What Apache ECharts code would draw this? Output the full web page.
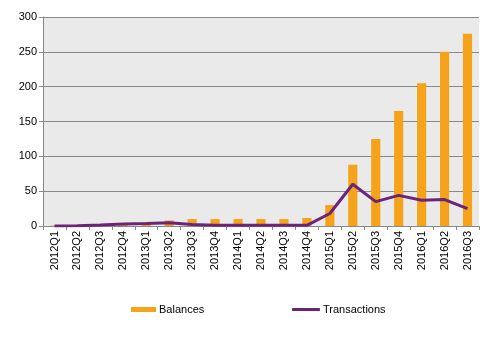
<!DOCTYPE html>
<html><head><meta charset="utf-8">
<script src="https://cdn.jsdelivr.net/npm/echarts@6/dist/echarts.min.js"></script>
<style>html,body{margin:0;padding:0;background:#fff}#c{width:491px;height:340px}</style>
</head><body><div id="c"></div>
<script>
var categories = ['2012Q1','2012Q2','2012Q3','2012Q4','2013Q1','2013Q2','2013Q3','2013Q4','2014Q1','2014Q2','2014Q3','2014Q4','2015Q1','2015Q2','2015Q3','2015Q4','2016Q1','2016Q2','2016Q3'];
var balances = [0.5,0.5,1,2,5,8,10,10,10,10,10,11.5,30,88,125,165,205,250,276];
var transactions = [0,0.5,1.5,3,3.5,4.5,2,1,1,1,1,1,18,60,35,44,37,38,25];
var yTicks = {min:0, max:300, interval:50};
var chart = echarts.init(document.getElementById('c'));
var font = 'Liberation Sans, Arial, sans-serif';
var legendText = {fontFamily:font, fontSize:11, color:'#000', padding:[0,0,0,-2]};
chart.setOption({
  animation:false,
  grid:{left:43, right:12, top:17, bottom:114, show:true, backgroundColor:'#EAEAEA', borderWidth:0},
  legend:[
    {left:126, top:299, itemWidth:25, itemHeight:5, textStyle:legendText,
      data:[{name:'Balances', icon:'rect'}]},
    {left:287, top:299, itemWidth:28, itemHeight:3, textStyle:legendText,
      data:[{name:'Transactions', icon:'roundRect'}]}
  ],
  xAxis:{type:'category', data:categories,
    axisLine:{lineStyle:{color:'#888'}},
    axisTick:{show:true, lineStyle:{color:'#888'}, length:4},
    axisLabel:{rotate:90, interval:0, fontFamily:font, fontSize:11, color:'#000', margin:5}},
  yAxis:{type:'value', min:yTicks.min, max:yTicks.max, interval:yTicks.interval,
    axisLine:{show:true, lineStyle:{color:'#888'}},
    axisTick:{show:true, lineStyle:{color:'#888'}, length:4},
    splitLine:{lineStyle:{color:'#888', width:1}},
    axisLabel:{fontFamily:font, fontSize:11, color:'#000', margin:6}},
  series:[
    {name:'Balances', type:'bar', data:balances, barWidth:'40%', itemStyle:{color:'#F5A31A'}},
    {name:'Transactions', type:'line', data:transactions, symbol:'none', lineStyle:{color:'#6B2479', width:3}, itemStyle:{color:'#6B2479'}}
  ]
});
</script></body></html>
